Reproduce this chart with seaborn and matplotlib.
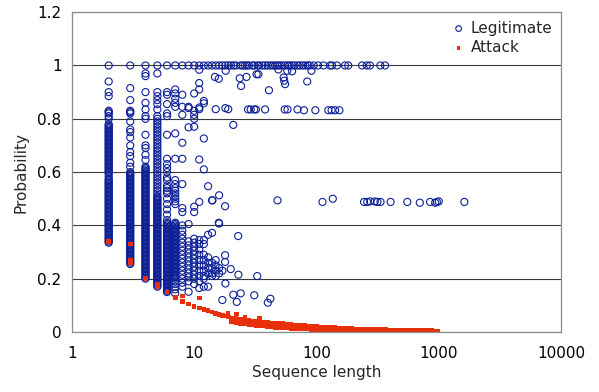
import matplotlib
matplotlib.use("Agg")
import matplotlib.pyplot as plt
import seaborn as sns
import pandas as pd

# Legitimate: columns for the short sequence lengths (length -> probabilities)
legit_columns = {
    2: [1.0, 0.94, 0.90, 0.885, 0.83, 0.825, 0.82, 0.81, 0.80, 0.78, 0.77, 0.76, 0.75, 0.74,
        0.73, 0.72, 0.71, 0.70, 0.69, 0.68, 0.67, 0.66, 0.65, 0.64, 0.63, 0.62, 0.61, 0.60,
        0.585, 0.57, 0.56, 0.55, 0.54, 0.53, 0.52, 0.51, 0.50, 0.49, 0.48, 0.47, 0.46, 0.45,
        0.44, 0.43, 0.42, 0.41, 0.40, 0.39, 0.38, 0.37, 0.36, 0.35, 0.34, 0.335],
    3: [1.0, 0.915, 0.87, 0.83, 0.825, 0.82, 0.79, 0.76, 0.75, 0.73, 0.70, 0.675, 0.66, 0.635,
        0.62, 0.60, 0.59, 0.58, 0.57, 0.56, 0.55, 0.54, 0.53, 0.52, 0.51, 0.50, 0.49, 0.48,
        0.47, 0.46, 0.45, 0.44, 0.43, 0.42, 0.41, 0.40, 0.39, 0.38, 0.37, 0.36, 0.35, 0.34,
        0.33, 0.32, 0.31, 0.30, 0.29, 0.28, 0.27, 0.26, 0.255],
    4: [1.0, 0.97, 0.96, 0.90, 0.86, 0.835, 0.81, 0.80, 0.74, 0.70, 0.69, 0.665, 0.645, 0.62,
        0.61, 0.60, 0.59, 0.58, 0.57, 0.56, 0.55, 0.54, 0.53, 0.52, 0.51, 0.50, 0.49, 0.48,
        0.47, 0.46, 0.45, 0.44, 0.43, 0.42, 0.41, 0.40, 0.39, 0.38, 0.37, 0.36, 0.35, 0.34,
        0.33, 0.32, 0.31, 0.30, 0.29, 0.28, 0.27, 0.26, 0.25, 0.24, 0.23, 0.22, 0.21, 0.20],
    5: [1.0, 0.97, 0.90, 0.885, 0.87, 0.855, 0.835, 0.81, 0.80, 0.79, 0.78, 0.77, 0.76, 0.75,
        0.74, 0.73, 0.72, 0.71, 0.70, 0.69, 0.68, 0.67, 0.66, 0.65, 0.64, 0.63, 0.62, 0.61,
        0.60, 0.59, 0.58, 0.57, 0.56, 0.55, 0.54, 0.53, 0.52, 0.51, 0.50, 0.49, 0.48, 0.47,
        0.46, 0.45, 0.44, 0.43, 0.42, 0.41, 0.40, 0.39, 0.38, 0.37, 0.36, 0.35, 0.34, 0.33,
        0.32, 0.31, 0.30, 0.29, 0.28, 0.27, 0.26, 0.25, 0.24, 0.23, 0.22, 0.21, 0.20, 0.19,
        0.18, 0.17],
    6: [1.0, 0.90, 0.89, 0.855, 0.82, 0.81, 0.74, 0.65, 0.63, 0.615, 0.60, 0.58, 0.57, 0.55,
        0.54, 0.53, 0.52, 0.50, 0.48, 0.46, 0.44, 0.42, 0.41, 0.40, 0.39, 0.38, 0.37, 0.36,
        0.35, 0.34, 0.33, 0.32, 0.31, 0.30, 0.29, 0.28, 0.27, 0.26, 0.25, 0.24, 0.23, 0.22,
        0.21, 0.20, 0.19, 0.18, 0.17, 0.16, 0.15],
    7: [1.0, 0.91, 0.895, 0.875, 0.86, 0.845, 0.745, 0.65, 0.57, 0.555, 0.54, 0.53, 0.52,
        0.51, 0.50, 0.49, 0.48, 0.41, 0.40, 0.39, 0.38, 0.37, 0.36, 0.35, 0.34, 0.33, 0.32,
        0.31, 0.30, 0.29, 0.28, 0.27, 0.26, 0.25, 0.24, 0.23, 0.22, 0.21, 0.20, 0.19, 0.18,
        0.17, 0.16, 0.145],
    8: [1.0, 0.89, 0.845, 0.815, 0.71, 0.65, 0.555, 0.465, 0.45, 0.40, 0.38, 0.365, 0.35,
        0.335, 0.32, 0.305, 0.29, 0.275, 0.26, 0.245, 0.23, 0.215, 0.20, 0.185, 0.17],
    9: [1.0, 0.845, 0.84, 0.768, 0.405, 0.34, 0.325, 0.31, 0.295, 0.28, 0.265, 0.25, 0.235,
        0.22, 0.205, 0.19, 0.151],
    10: [1.0, 0.895, 0.83, 0.815, 0.80, 0.77, 0.47, 0.45, 0.35, 0.335, 0.32, 0.305, 0.29,
         0.275, 0.26, 0.245, 0.23, 0.215, 0.20, 0.18],
    11: [1.0, 0.984, 0.934, 0.91, 0.842, 0.836, 0.647, 0.488, 0.345, 0.33, 0.31, 0.29, 0.27,
         0.25, 0.23, 0.21, 0.19, 0.165],
    12: [1.0, 0.867, 0.858, 0.726, 0.61, 0.345, 0.33, 0.29, 0.27, 0.25, 0.23, 0.21, 0.20, 0.17],
    13: [1.0, 0.547, 0.365, 0.28, 0.26, 0.24, 0.22, 0.17],
    14: [1.0, 0.494, 0.372, 0.26, 0.24, 0.22, 0.21],
}

# Legitimate: in-between values where the columns are solid
legit_fill = {
    2: [0.345, 0.355, 0.365, 0.375, 0.385, 0.395, 0.405, 0.415, 0.425, 0.435, 0.445, 0.455,
        0.465, 0.475, 0.485, 0.495, 0.505, 0.515, 0.525, 0.535, 0.545, 0.555, 0.565, 0.575,
        0.595, 0.605, 0.615, 0.625, 0.635, 0.645, 0.655, 0.665, 0.675, 0.685, 0.695, 0.705,
        0.715, 0.725, 0.735, 0.745, 0.755, 0.765, 0.775],
    3: [0.265, 0.275, 0.285, 0.295, 0.305, 0.315, 0.325, 0.335, 0.345, 0.355, 0.365, 0.375,
        0.385, 0.395, 0.405, 0.415, 0.425, 0.435, 0.445, 0.455, 0.465, 0.475, 0.485, 0.495,
        0.505, 0.515, 0.525, 0.535, 0.545, 0.555, 0.565, 0.575, 0.585, 0.595],
    4: [0.205, 0.215, 0.225, 0.235, 0.245, 0.255, 0.265, 0.275, 0.285, 0.295, 0.305, 0.315,
        0.325, 0.335, 0.345, 0.355, 0.365, 0.375, 0.385, 0.395, 0.405, 0.415, 0.425, 0.435,
        0.445, 0.455, 0.465, 0.475, 0.485, 0.495, 0.505, 0.515, 0.525, 0.535, 0.545, 0.555,
        0.565, 0.575, 0.585, 0.595, 0.605, 0.615],
    5: [0.175, 0.185, 0.195, 0.205, 0.215, 0.225, 0.235, 0.245, 0.255, 0.265, 0.275, 0.285,
        0.295, 0.305, 0.315, 0.325, 0.335, 0.345, 0.355, 0.365, 0.375, 0.385, 0.395, 0.405,
        0.415, 0.425, 0.435, 0.445, 0.455, 0.465, 0.475, 0.485, 0.495, 0.505],
    6: [0.155, 0.165, 0.175, 0.185, 0.195, 0.205, 0.215, 0.225, 0.235, 0.245, 0.255, 0.265,
        0.275, 0.285, 0.295, 0.305, 0.315, 0.325, 0.335, 0.345, 0.355, 0.365, 0.375, 0.385,
        0.395, 0.405],
    7: [0.205, 0.215, 0.225, 0.235, 0.245, 0.255, 0.265, 0.275, 0.285, 0.295, 0.305, 0.315,
        0.325, 0.335, 0.345, 0.355, 0.365, 0.375, 0.385, 0.395, 0.405],
}

# Legitimate: scattered points at longer sequence lengths
legit_len = [15, 16, 17, 18, 19, 20, 21, 22, 24, 25, 26, 27, 28, 30, 31, 33, 34, 36, 38, 40,
             42, 44, 46, 48, 50, 52, 55, 58, 60, 63, 66, 70, 73, 77, 81, 85, 88, 95, 103, 114,
             129, 134, 147, 171, 182, 236, 258, 274, 333, 364,
             14.8, 15.9, 18.1, 23.6, 26.8, 24.2, 32.4, 33.5, 40.9, 48.8, 53.9, 54.5, 55.4,
             57.7, 63.2, 91, 84,
             15, 18, 19, 27.6, 29, 31, 32, 38, 55, 58, 70, 79, 98, 125, 133, 142, 154,
             20.9, 16, 48, 14.1, 17.9, 16, 22.9, 15.9, 17.9, 17.9, 19.9, 17, 16, 23, 32.8, 18,
             17, 20.9, 24, 22.3, 31, 42, 40, 15, 15, 15, 15, 16,
             112, 136, 245, 260, 275, 300, 315, 334, 404, 553, 700, 850, 935, 965, 1000, 1620]
legit_prob = [1.0] * 50 + \
             [0.957, 0.95, 0.98, 0.952, 0.957, 0.923, 0.967, 0.967, 0.907, 0.985, 0.955, 0.943,
              0.93, 0.98, 0.978, 0.98, 0.94,
              0.836, 0.84, 0.836, 0.835, 0.835, 0.835, 0.835, 0.835, 0.835, 0.835, 0.835,
              0.832, 0.832, 0.832, 0.832, 0.832, 0.832,
              0.777, 0.513, 0.494, 0.494, 0.472, 0.407, 0.36, 0.41, 0.288, 0.263, 0.236, 0.23,
              0.24, 0.215, 0.21, 0.182, 0.12, 0.14, 0.145, 0.113, 0.138, 0.125, 0.11, 0.27,
              0.25, 0.23, 0.21, 0.22,
              0.488, 0.50, 0.488, 0.488, 0.49, 0.49, 0.488, 0.488, 0.488, 0.488, 0.485, 0.488,
              0.485, 0.488, 0.49, 0.488]

# Attack points
attack_len = [2, 3, 3, 3, 4, 5, 5, 6, 7, 8, 8, 9, 10, 11, 11, 18.9, 22.3, 26, 34.4,
              12, 13, 14, 15, 16, 17, 18, 19, 20, 21, 22, 23, 24, 25, 26, 27, 28, 29, 30, 32,
              34, 36, 38, 40, 42, 44, 46, 48, 50, 53, 56, 59, 62, 65, 68, 72, 76, 80, 85, 90,
              95, 100, 106, 112, 118, 125, 132, 140, 148, 156, 165, 175, 185, 196, 208, 220,
              233, 247, 262, 278, 295, 312, 330, 350, 370, 392, 415, 440, 466, 494, 523, 554,
              587, 622, 659, 698, 740, 784, 830, 880, 932, 988]
attack_prob = [0.34, 0.33, 0.27, 0.26, 0.20, 0.18, 0.17, 0.15, 0.13, 0.135, 0.115, 0.105,
               0.095, 0.128, 0.09, 0.071, 0.067, 0.057, 0.052,
               0.085, 0.08, 0.075, 0.07, 0.066, 0.063, 0.06, 0.056, 0.053, 0.052, 0.05, 0.048,
               0.047, 0.046, 0.045, 0.044, 0.043, 0.042, 0.041, 0.04, 0.038, 0.037, 0.036,
               0.035, 0.034, 0.034, 0.033, 0.032, 0.032, 0.031, 0.03, 0.029, 0.028, 0.027,
               0.027, 0.026, 0.025, 0.024, 0.023, 0.022, 0.021, 0.02, 0.019, 0.019, 0.018,
               0.017, 0.017, 0.016, 0.015, 0.015, 0.014, 0.014, 0.013, 0.013, 0.012, 0.012,
               0.011, 0.011, 0.011, 0.010, 0.010, 0.010, 0.009, 0.009, 0.009, 0.008, 0.008,
               0.008, 0.007, 0.007, 0.007, 0.006, 0.006, 0.006, 0.006, 0.005, 0.005, 0.005,
               0.005, 0.005, 0.004, 0.004]
# Attack: lower edge of the band for the long sequences
attack_low_len = [20, 21, 22, 23, 24, 25, 26, 27, 28, 29, 30, 32, 34, 36, 38, 40, 42, 44, 46,
                  48, 50, 53, 56, 59, 62, 65, 68, 72, 76, 80, 85, 90, 95, 100, 106, 112, 118,
                  125, 132, 140, 148, 156, 165, 175, 185, 196, 208, 220, 233, 247, 262, 278,
                  295, 312, 330, 350, 370, 392, 415, 440, 466, 494, 523, 554, 587, 622, 659,
                  698, 740, 784, 830, 880, 932, 988]
attack_low_prob = [0.04, 0.038, 0.036, 0.034, 0.033, 0.032, 0.031, 0.03, 0.029, 0.028, 0.027,
                   0.025, 0.024, 0.023, 0.022, 0.021, 0.02, 0.019, 0.018, 0.018, 0.017, 0.016,
                   0.015, 0.015, 0.014, 0.013, 0.013, 0.012, 0.012, 0.011, 0.011, 0.01, 0.01,
                   0.01, 0.009, 0.009, 0.009, 0.008, 0.008, 0.008, 0.007, 0.007, 0.007, 0.006,
                   0.006, 0.006, 0.006, 0.005, 0.005, 0.005, 0.005, 0.004, 0.004, 0.004, 0.004,
                   0.004, 0.003, 0.003, 0.003, 0.003, 0.003, 0.003, 0.003, 0.002, 0.002, 0.002,
                   0.002, 0.002, 0.002, 0.002, 0.002, 0.002, 0.002, 0.002]

blue = '#0d2096'
red = '#e8300c'

# flatten the column dicts into long form
col_len = [k for k, v in legit_columns.items() for _ in v] + \
          [k for k, v in legit_fill.items() for _ in v]
col_prob = [p for v in legit_columns.values() for p in v] + \
           [p for v in legit_fill.values() for p in v]
legit = pd.DataFrame({'len': col_len + legit_len, 'prob': col_prob + legit_prob})
attack = pd.DataFrame({'len': attack_len + attack_low_len,
                       'prob': attack_prob + attack_low_prob})

sns.set_style('white')
plt.rcParams['font.family'] = ['DejaVu Sans']

fig = plt.figure(figsize=(5.99, 3.92), dpi=100)
ax = fig.add_axes([0.120, 0.153, 0.8166, 0.816])

sns.scatterplot(data=legit, x='len', y='prob', ax=ax, marker='o', s=26,
                facecolors='none', edgecolor=blue, linewidth=0.8, label='Legitimate')
sns.scatterplot(data=attack, x='len', y='prob', ax=ax, marker='s', s=11,
                color=red, edgecolor='none', linewidth=0, label='Attack')

ax.set_xscale('log')
ax.set_xlim(1, 10000)
ax.set_ylim(0, 1.2)
ax.set_xticks([1, 10, 100, 1000, 10000])
ax.set_xticklabels(['1', '10', '100', '1000', '10000'])
ax.set_yticks([0, 0.2, 0.4, 0.6, 0.8, 1.0, 1.2])
ax.set_yticklabels(['0', '0.2', '0.4', '0.6', '0.8', '1', '1.2'])
ax.minorticks_off()
ax.yaxis.grid(True, color='#3a3a3a', linewidth=0.8)
ax.set_axisbelow(True)
for s in ax.spines.values():
    s.set_color('#8c8c8c')
    s.set_linewidth(0.9)
ax.tick_params(axis='both', colors='#8c8c8c', labelcolor='black', labelsize=11,
               length=4, width=0.9, direction='out')
ax.tick_params(axis='x', pad=6)
ax.set_xlabel('Sequence length', fontsize=11, labelpad=3)
ax.set_ylabel('Probability', fontsize=11, labelpad=6)

ax.legend(loc='upper right', frameon=False, fontsize=11, handletextpad=0.3,
          handlelength=1.0, borderaxespad=0.15, labelspacing=0.3, markerscale=0.8)

fig.savefig('out.png', dpi=100)
